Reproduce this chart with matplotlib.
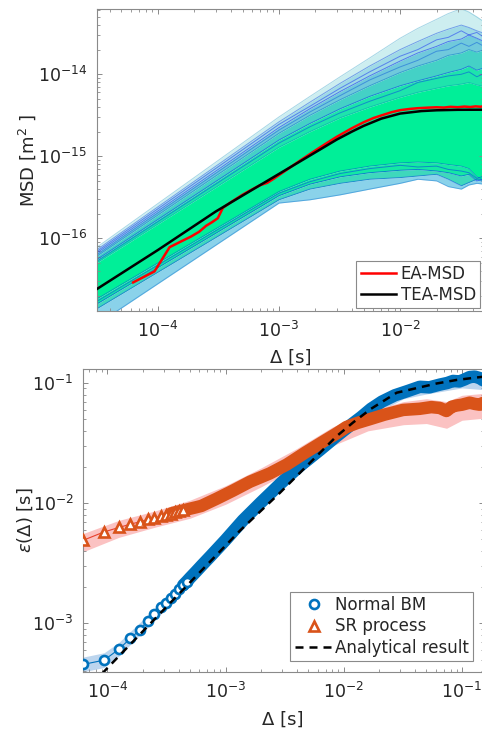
import matplotlib
matplotlib.use("Agg")
import matplotlib.pyplot as plt
from matplotlib.lines import Line2D

# ------------------------------------------------------------------
# Top panel: time-averaged MSD of single trajectories, EA-MSD, TEA-MSD
# ------------------------------------------------------------------
lag_nodes = [3.125e-5, 1.0e-3, 1.8e-3, 3.2e-3, 5.6e-3, 1.0e-2, 1.4e-2,
             2.0e-2, 2.5e-2, 3.2e-2, 3.7e-2, 4.3e-2, 4.93e-2]

# envelope trajectories of the ensemble, MSD in units of 1e-16 m^2 (top -> bottom)
traj_u1 = [0.776, 30.2, 53.7, 93.3, 158, 275, 363, 468, 550, 631, 575, 501, 437]
traj_u2 = [0.724, 26.3, 45.7, 77.6, 126, 200, 251, 316, 355, 398, 372, 339, 316]
traj_u3 = [0.661, 22.4, 38.0, 61.7, 95.5, 145, 182, 219, 251, 269, 302, 275, 251]
traj_u4 = [0.603, 19.1, 31.6, 49.0, 72.4, 105, 126, 148, 170, 182, 200, 186, 200]
traj_u5 = [0.550, 15.8, 25.1, 38.0, 53.7, 72.4, 83.2, 95.5, 105, 115, 126, 112, 120]
traj_g_hi = [0.501, 12.9, 20.0, 29.5, 39.8, 52.5, 60.3, 67.6, 72.4, 75.9, 79.4, 74.1, 70.8]
traj_g_lo = [0.182, 3.72, 5.25, 6.61, 7.59, 8.32, 8.51, 8.32, 7.94, 7.59, 7.08, 5.62, 5.01]
traj_l1 = [0.158, 3.31, 4.57, 5.62, 6.31, 6.76, 6.92, 6.61, 6.31, 5.75, 6.03, 5.01, 5.37]
traj_l2 = [0.138, 2.95, 3.98, 4.68, 5.25, 5.50, 5.75, 6.03, 5.25, 4.37, 4.79, 5.25, 4.90]
traj_l3 = [0.089, 2.69, 2.95, 3.39, 3.98, 4.68, 5.25, 5.01, 4.27, 3.98, 4.47, 4.68, 4.57]

# a few individual trajectories running inside the bundle (same units)
traj_x1 = [0.692, 24.5, 40.7, 67.6, 107, 166, 200, 263, 282, 339, 302, 324, 282]
traj_x2 = [0.631, 20.9, 34.7, 55.0, 85.1, 123, 148, 191, 200, 240, 219, 245, 219]
traj_x3 = [0.525, 14.5, 22.9, 33.9, 46.8, 63.1, 79.4, 89.1, 95.5, 100, 107, 93.3, 102]
traj_x4 = [0.170, 3.55, 4.90, 6.17, 7.08, 7.76, 7.41, 7.59, 6.92, 6.61, 6.31, 5.37, 5.75]

ea_lag = [6.25e-5, 9.375e-5, 1.25e-4, 1.5625e-4, 1.875e-4, 2.1875e-4, 2.5e-4,
          2.8125e-4, 3.125e-4, 3.4375e-4, 4.0e-4, 5.0e-4, 6.0e-4, 7.0e-4, 8.0e-4,
          9.0e-4, 1.0e-3, 1.2e-3, 1.5e-3, 2.0e-3, 2.5e-3, 3.0e-3, 4.0e-3, 5.0e-3,
          6.0e-3, 7.0e-3, 8.5e-3, 1.0e-2, 1.2e-2, 1.4e-2, 1.7e-2, 2.0e-2, 2.3e-2,
          2.6e-2, 3.0e-2, 3.4e-2, 3.8e-2, 4.2e-2, 4.6e-2, 4.93e-2]
ea_msd = [0.29, 0.395, 0.78, 0.92, 1.05, 1.2, 1.42, 1.58, 1.76, 2.35, 2.75, 3.4,
          3.95, 4.45, 4.75, 5.3, 5.9, 7.1, 8.9, 11.8, 14.6, 17.3, 22.0, 26.0, 29.2,
          31.5, 34.5, 36.5, 37.8, 38.6, 39.2, 39.6, 39.3, 40.1, 39.7, 40.4, 39.9,
          40.6, 40.2, 40.8]

tea_lag = [3.125e-5, 1.0e-4, 3.0e-4, 6.0e-4, 1.0e-3, 1.5e-3, 2.0e-3, 3.0e-3,
           4.0e-3, 5.0e-3, 7.0e-3, 1.0e-2, 1.5e-2, 2.0e-2, 3.0e-2, 4.93e-2]
tea_msd = [0.24, 0.72, 2.12, 3.9, 6.1, 8.7, 11.2, 16.0, 20.0, 23.5, 28.8, 33.2,
           35.6, 36.4, 36.9, 37.0]

MSD_UNIT = 1e-16

# ------------------------------------------------------------------
# Bottom panel: ergodicity-breaking estimator
# ------------------------------------------------------------------
bm_lag = [6.25e-5, 9.375e-5, 1.25e-4, 1.5625e-4, 1.875e-4, 2.1875e-4, 2.5e-4,
          2.8125e-4, 3.125e-4, 3.4375e-4, 3.75e-4, 4.0625e-4, 4.375e-4, 4.6875e-4,
          5.0e-4, 5.625e-4, 6.25e-4, 7.5e-4, 1.0e-3, 1.4e-3, 2.0e-3, 2.9e-3, 4.2e-3,
          6.3e-3, 8.5e-3, 1.12e-2, 1.4e-2, 1.7e-2, 2.1e-2, 2.7e-2, 3.5e-2, 4.4e-2,
          5.3e-2, 6.5e-2, 7.5e-2, 8.4e-2, 9.5e-2, 0.105, 0.116, 0.128, 0.141, 0.1535]
bm_eps = [4.56e-4, 4.95e-4, 6.1e-4, 7.5e-4, 8.8e-4, 1.05e-3, 1.19e-3, 1.36e-3,
          1.48e-3, 1.64e-3, 1.77e-3, 1.94e-3, 2.08e-3, 2.23e-3, 2.39e-3, 2.7e-3,
          3.02e-3, 3.65e-3, 4.95e-3, 7.2e-3, 1.02e-2, 1.45e-2, 2.02e-2, 2.78e-2,
          3.55e-2, 4.4e-2, 5.2e-2, 6.1e-2, 7.0e-2, 7.9e-2, 8.6e-2, 9.3e-2, 9.2e-2,
          9.7e-2, 0.100, 0.104, 0.103, 0.107, 0.112, 0.113, 0.110, 0.104]

sr_lag = [6.25e-5, 9.375e-5, 1.25e-4, 1.5625e-4, 1.875e-4, 2.1875e-4, 2.5e-4,
          2.8125e-4, 3.125e-4, 3.4375e-4, 3.75e-4, 4.0625e-4, 4.375e-4, 5.0e-4,
          5.625e-4, 6.25e-4, 8.4e-4, 1.15e-3, 1.61e-3, 2.37e-3, 3.3e-3, 4.7e-3,
          6.5e-3, 8.67e-3, 1.05e-2, 1.3e-2, 1.66e-2, 2.2e-2, 3.17e-2, 4.38e-2,
          5.5e-2, 6.5e-2, 7.38e-2, 8.2e-2, 9.0e-2, 0.1, 0.116, 0.128, 0.141, 0.1535]
sr_eps = [4.92e-3, 5.77e-3, 6.28e-3, 6.69e-3, 7.0e-3, 7.32e-3, 7.55e-3, 7.78e-3,
          8.0e-3, 8.2e-3, 8.4e-3, 8.55e-3, 8.7e-3, 9.0e-3, 9.25e-3, 9.5e-3, 1.09e-2,
          1.27e-2, 1.51e-2, 1.77e-2, 2.1e-2, 2.63e-2, 3.2e-2, 3.8e-2, 4.3e-2, 4.65e-2,
          5.0e-2, 5.45e-2, 5.97e-2, 6.1e-2, 6.3e-2, 6.2e-2, 5.85e-2, 6.35e-2, 6.5e-2,
          6.6e-2, 6.86e-2, 6.7e-2, 6.6e-2, 6.9e-2]

# spread of the estimator over realisations
bm_band_lag = [6.25e-5, 9.375e-5, 1.25e-4, 2.5e-4, 5e-4, 1e-3, 2e-3, 4e-3, 8e-3,
               1.6e-2, 3.2e-2, 5e-2, 0.1, 0.1535]
bm_band_lo = [3.96e-4, 4.3e-4, 5.35e-4, 1.06e-3, 2.1e-3, 4.3e-3, 8.9e-3, 1.7e-2,
              3.0e-2, 5.15e-2, 7.4e-2, 8.1e-2, 9.1e-2, 8.8e-2]
bm_band_hi = [5.25e-4, 5.7e-4, 6.95e-4, 1.33e-3, 2.7e-3, 5.6e-3, 1.15e-2, 2.2e-2,
              3.9e-2, 6.6e-2, 9.4e-2, 0.103, 0.118, 0.116]

sr_band_lag = [6.25e-5, 1.25e-4, 2.5e-4, 5e-4, 1e-3, 2e-3, 4e-3, 8e-3, 1.6e-2,
               3.2e-2, 5e-2, 7.4e-2, 0.1, 0.1535]
sr_band_lo = [3.95e-3, 5.2e-3, 6.3e-3, 7.5e-3, 9.8e-3, 1.37e-2, 1.97e-2, 3.0e-2,
              4.0e-2, 4.5e-2, 4.6e-2, 4.2e-2, 4.9e-2, 5.1e-2]
sr_band_hi = [5.6e-3, 7.2e-3, 8.6e-3, 1.06e-2, 1.4e-2, 1.97e-2, 2.85e-2, 4.3e-2,
              5.8e-2, 7.0e-2, 7.4e-2, 7.0e-2, 7.9e-2, 8.2e-2]

an_lag = [9.0e-5, 1.32e-3, 2.88e-3, 5.0e-3, 8.67e-3, 1.2e-2, 1.7e-2, 2.8e-2,
          4.0e-2, 6.08e-2, 9.0e-2, 0.132, 0.1535]
an_eps = [3.82e-4, 5.9e-3, 1.22e-2, 2.1e-2, 3.6e-2, 4.7e-2, 6.1e-2, 8.3e-2,
          9.0e-2, 9.9e-2, 0.106, 0.111, 0.113]

# ------------------------------------------------------------------
W, H = 482, 730
fig = plt.figure(figsize=(W / 100, H / 100), dpi=100)

AX_COLOR = "#8a8a8a"
TXT = "#262626"
BLUE = "#0072BD"
ORANGE = "#D95319"


def style_axes(ax):
    ax.set_xscale("log")
    ax.set_yscale("log")
    for s in ax.spines.values():
        s.set_color(AX_COLOR)
        s.set_linewidth(0.8)
    ax.tick_params(which="both", direction="in", top=True, right=True,
                   color=AX_COLOR, labelcolor=TXT, labelsize=12.5, pad=7)
    ax.tick_params(which="major", length=3.5, width=0.7)
    ax.tick_params(which="minor", length=2.0, width=0.6)


# ---------------- top axes ----------------
ax1 = fig.add_axes([96.7 / W, 1 - 311 / H, (484 - 96.7) / W, (311 - 9.3) / H])
style_axes(ax1)

to_m2 = lambda v: [x * MSD_UNIT for x in v]
curves = [traj_u1, traj_u2, traj_u3, traj_u4, traj_u5, traj_g_hi,
          traj_g_lo, traj_l1, traj_l2, traj_l3]
fills = ["#cdeef0", "#9fdae6", "#70c9dc", "#44d1c6", "#1ee4ac",
         "#00ef98", "#14e8a4", "#3ed8bc", "#8ad2ea"]
cmap = plt.get_cmap("winter")
line_cols = [cmap(0.55), cmap(0.25), cmap(0.1), cmap(0.45), cmap(0.2),
             cmap(0.6), cmap(0.3), cmap(0.05), cmap(0.2), cmap(0.4)]
line_alpha = [0.35, 0.45, 0.5, 0.5, 0.5, 0.45, 0.45, 0.45, 0.45, 0.4]

for upper, lower, c in zip(curves[:-1], curves[1:], fills):
    ax1.fill_between(lag_nodes, to_m2(lower), to_m2(upper), color=c, lw=0, zorder=1)
for cv, c, a in zip(curves, line_cols, line_alpha):
    ax1.plot(lag_nodes, to_m2(cv), color=c, alpha=a, lw=0.7, zorder=2)
for cv, c in zip([traj_x1, traj_x2, traj_x3, traj_x4],
                 [cmap(0.08), cmap(0.3), cmap(0.15), cmap(0.1)]):
    ax1.plot(lag_nodes, to_m2(cv), color=c, alpha=0.45, lw=0.7, zorder=2)

ax1.plot(ea_lag, to_m2(ea_msd), color="#ff0000", lw=1.8, zorder=3, label="EA-MSD")
ax1.plot(tea_lag, to_m2(tea_msd), color="black", lw=1.8, zorder=4, label="TEA-MSD")

ax1.set_xlim(3.125e-5, 4.93e-2)
ax1.set_ylim(1.30e-17, 6.2e-14)
ax1.set_xticks([1e-4, 1e-3, 1e-2])
ax1.set_yticks([1e-16, 1e-15, 1e-14])

ax1.set_xlabel("Δ [s]", fontsize=13, color=TXT)
ax1.xaxis.label.set_va("center")
ax1.xaxis.set_label_coords(0.5, -0.156)
ax1.set_ylabel("MSD [m$^{2}$ ]", fontsize=13, color=TXT)
ax1.yaxis.label.set_va("center")
ax1.yaxis.set_label_coords(-0.18, 0.5)

leg1 = ax1.legend(loc="lower right", bbox_to_anchor=(0.9897, 0.009),
                  borderaxespad=0, fontsize=12, frameon=True, fancybox=False,
                  edgecolor=AX_COLOR, framealpha=1, handlelength=2.1,
                  handletextpad=0.3, labelspacing=0.2, borderpad=0.25)
leg1.get_frame().set_linewidth(0.8)
for t in leg1.get_texts():
    t.set_color(TXT)

# ---------------- bottom axes ----------------
ax2 = fig.add_axes([83.3 / W, 1 - 672.3 / H, (484 - 83.3) / W, (672.3 - 369.3) / H])
style_axes(ax2)

ax2.fill_between(bm_band_lag, bm_band_lo, bm_band_hi, color="#bcd5ee", lw=0, zorder=1)
ax2.fill_between(sr_band_lag, sr_band_lo, sr_band_hi, color="#fbc2c2", lw=0, zorder=1.5)

n_sparse_bm = 14
n_sparse_sr = 13
RIBBON = 9.0
ax2.plot(bm_lag[:n_sparse_bm], bm_eps[:n_sparse_bm], color=BLUE, lw=0.8, zorder=2)
ax2.plot(bm_lag[n_sparse_bm - 2:], bm_eps[n_sparse_bm - 2:], color=BLUE, lw=RIBBON,
         solid_capstyle="round", solid_joinstyle="round", zorder=3)
ax2.plot(bm_lag[:n_sparse_bm], bm_eps[:n_sparse_bm], ls="none", marker="o", ms=6.5,
         mfc="white", mec=BLUE, mew=1.9, zorder=4)

ax2.plot(sr_lag[:n_sparse_sr], sr_eps[:n_sparse_sr], color="#e8402e", lw=0.8, zorder=2)
ax2.plot(sr_lag[n_sparse_sr - 4:], sr_eps[n_sparse_sr - 4:], color=ORANGE, lw=RIBBON,
         solid_capstyle="round", solid_joinstyle="round", zorder=3.5)
ax2.plot(sr_lag[:n_sparse_sr], sr_eps[:n_sparse_sr], ls="none", marker="^", ms=7.5,
         mfc="white", mec=ORANGE, mew=1.9, zorder=4.5)

ax2.plot(an_lag, an_eps, color="black", lw=1.8, dashes=(3.2, 2.4), zorder=5)

ax2.set_xlim(6.25e-5, 0.1535)
ax2.set_ylim(3.92e-4, 0.130)
ax2.set_xticks([1e-4, 1e-3, 1e-2, 1e-1])
ax2.set_yticks([1e-3, 1e-2, 1e-1])

ax2.set_xlabel("Δ [s]", fontsize=13, color=TXT)
ax2.xaxis.label.set_va("center")
ax2.xaxis.set_label_coords(0.4976, -0.155)
ax2.set_ylabel(r"$\epsilon$(Δ) [s]", fontsize=13, color=TXT)
ax2.yaxis.label.set_va("center")
ax2.yaxis.set_label_coords(-0.1455, 0.503)

handles = [
    Line2D([], [], ls="none", marker="o", ms=6.5, mfc="white", mec=BLUE, mew=1.9),
    Line2D([], [], ls="none", marker="^", ms=7.5, mfc="white", mec=ORANGE, mew=1.9),
    Line2D([], [], color="black", lw=1.8, dashes=(3.2, 2.4)),
]
leg2 = ax2.legend(handles, ["Normal BM", "SR process", "Analytical result"],
                  loc="lower right", bbox_to_anchor=(0.9718, 0.0373),
                  borderaxespad=0, fontsize=12, frameon=True, fancybox=False,
                  edgecolor=AX_COLOR, framealpha=1, handlelength=2.3,
                  handletextpad=0.1, labelspacing=0.2, borderpad=0.25)
leg2.get_frame().set_linewidth(0.8)
for t in leg2.get_texts():
    t.set_color(TXT)

fig.savefig("out.png", dpi=100)
